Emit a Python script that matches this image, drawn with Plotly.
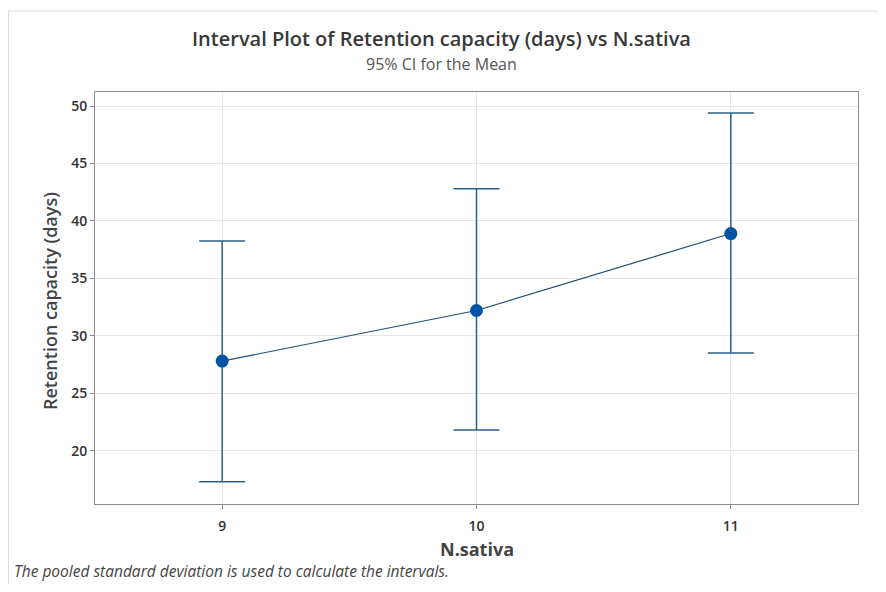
import plotly.graph_objects as go

categories = [9, 10, 11]
means = [27.8, 32.2, 38.9]
ci_upper = [38.25, 42.8, 49.4]
ci_lower = [17.3, 21.8, 28.5]
y_ticks = [20, 25, 30, 35, 40, 45, 50]

err_plus = [u - m for u, m in zip(ci_upper, means)]
err_minus = [m - l for m, l in zip(means, ci_lower)]

# figure sits 8px inside the page (default body margin)
W, H = 870, 576
L, R, T, B = 87, 20, 84, 80
PW, PH = W - L - R, H - T - B

def px(xf):
    return (xf - L) / PW

def py(yf):
    return 1 - (yf - T) / PH

fig = go.Figure()
fig.add_trace(go.Scatter(
    x=categories, y=means, mode="lines+markers",
    line=dict(color="#1F4E79", width=1.2),
    marker=dict(color="#0054A6", size=13),
    error_y=dict(type="data", symmetric=False, array=err_plus, arrayminus=err_minus,
                 color="#2B5F8A", thickness=1.5, width=23),
    showlegend=False, hoverinfo="x+y",
))

font_family = "Open Sans, Noto Sans, sans-serif"
fig.update_layout(
    width=W, height=H,
    paper_bgcolor="white", plot_bgcolor="white",
    margin=dict(l=L, r=R, t=T, b=B),
    font=dict(family=font_family, color="#333333"),
    xaxis=dict(
        range=[8.5, 11.5], tickvals=categories, ticktext=[str(c) for c in categories],
        showgrid=True, gridcolor="#e6e6e6", gridwidth=1,
        showline=True, linecolor="#8c8c8c", linewidth=1, mirror=True,
        ticks="outside", ticklen=4, tickcolor="#8c8c8c", ticklabelstandoff=5,
        tickfont=dict(size=14, color="#333333", weight=600),
        zeroline=False,
    ),
    yaxis=dict(
        range=[15.36, 51.22], tickvals=y_ticks,
        showgrid=True, gridcolor="#e6e6e6", gridwidth=1,
        showline=True, linecolor="#8c8c8c", linewidth=1, mirror=True,
        ticks="outside", ticklen=4, tickcolor="#8c8c8c",
        tickfont=dict(size=14, color="#333333", weight=600),
        zeroline=False,
    ),
    annotations=[
        dict(text="Interval Plot of Retention capacity (days) vs N.sativa",
             xref="paper", yref="paper", x=px(433), y=py(31), xanchor="center", yanchor="middle",
             showarrow=False, font=dict(size=20, color="#383838", weight=600)),
        dict(text="95% CI for the Mean",
             xref="paper", yref="paper", x=px(433), y=py(56), xanchor="center", yanchor="middle",
             showarrow=False, font=dict(size=16, color="#555555")),
        dict(text="N.sativa",
             xref="paper", yref="paper", x=0.5, y=py(541), xanchor="center", yanchor="middle",
             showarrow=False, font=dict(size=18, color="#444444", weight=700)),
        dict(text="Retention capacity (days)", textangle=-90,
             xref="paper", yref="paper", x=px(42), y=py(293), xanchor="center", yanchor="middle",
             showarrow=False, font=dict(size=18, color="#444444", weight=600)),
        dict(text="<i>The pooled standard deviation is used to calculate the intervals.</i>",
             xref="paper", yref="paper", x=px(4), y=py(563), xanchor="left", yanchor="middle",
             showarrow=False, font=dict(size=15.5, color="#444444")),
    ],
    shapes=[
        dict(type="line", xref="paper", yref="paper", x0=px(0.5), x1=px(W), y0=py(3), y1=py(3),
             line=dict(color="#dddddd", width=1)),
        dict(type="line", xref="paper", yref="paper", x0=px(0.5), x1=px(0.5), y0=py(H), y1=py(3),
             line=dict(color="#dddddd", width=1)),
    ],
)
fig.write_html("out.html")
